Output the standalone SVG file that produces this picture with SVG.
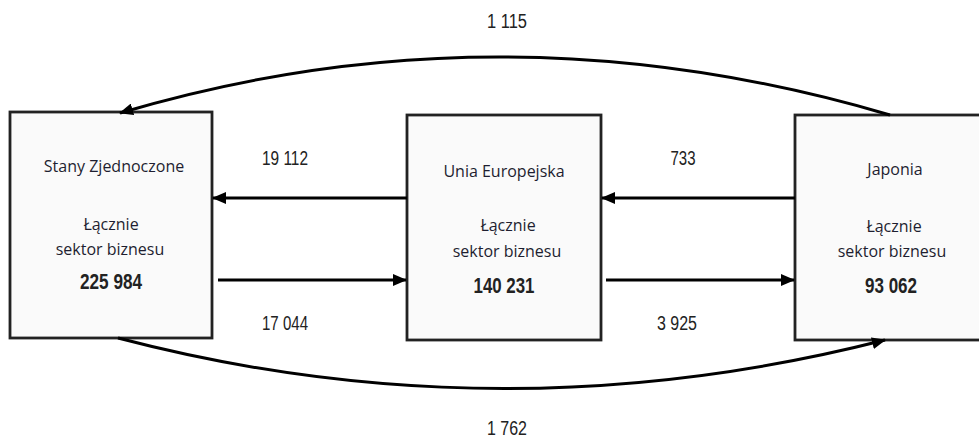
<svg xmlns="http://www.w3.org/2000/svg" width="979" height="440" viewBox="0 0 979 440">
<defs>
<marker id="ah" viewBox="0 0 14 12" refX="13" refY="6" markerWidth="14" markerHeight="12" markerUnits="userSpaceOnUse" orient="auto">
<path d="M0,0 L14,6 L0,12 Z" fill="#000"/>
</marker>
</defs>
<style>
.box{fill:#fafafa;stroke:#222;stroke-width:2.8}
.t{font-family:"Open Sans","Liberation Sans",sans-serif;font-size:16px;fill:#1e1e30;text-anchor:middle}
.n{font-family:"Liberation Sans",sans-serif;font-size:22px;font-weight:bold;fill:#222;text-anchor:middle}
.l{font-family:"Liberation Sans",sans-serif;font-size:20px;fill:#222;text-anchor:middle}
.c{fill:none;stroke:#000;stroke-width:3;marker-end:url(#ah)}
</style>
<rect width="979" height="440" fill="#fff"/>
<g id="us">
<rect class="box" x="10" y="112" width="202" height="226"/>
<text class="t" x="114" y="172">Stany Zjednoczone</text>
<text class="t" x="111" y="230">Łącznie</text>
<text class="t" x="110" y="255">sektor biznesu</text>
<text class="n" x="111" y="289" textLength="62" lengthAdjust="spacingAndGlyphs">225 984</text>
</g>
<g id="eu">
<rect class="box" x="407" y="115" width="194" height="225"/>
<text class="t" x="504" y="177">Unia Europejska</text>
<text class="t" x="508" y="231">Łącznie</text>
<text class="t" x="507" y="257">sektor biznesu</text>
<text class="n" x="504" y="293" textLength="61" lengthAdjust="spacingAndGlyphs">140 231</text>
</g>
<g id="jp">
<rect class="box" x="795" y="115" width="195" height="225"/>
<text class="t" x="895" y="175">Japonia</text>
<text class="t" x="894" y="232">Łącznie</text>
<text class="t" x="892" y="257">sektor biznesu</text>
<text class="n" x="891" y="293" textLength="52" lengthAdjust="spacingAndGlyphs">93 062</text>
</g>
<g id="connectors">
<path class="c" d="M890,115 Q500,0 120,113"/>
<path class="c" d="M118,338 Q500,438 885,340"/>
<path class="c" d="M407,198 L213,198"/>
<path class="c" d="M218,280 L406,280"/>
<path class="c" d="M795,198 L602,198"/>
<path class="c" d="M606,280 L794,280"/>
<text class="l" x="507" y="28" textLength="40" lengthAdjust="spacingAndGlyphs">1 115</text>
<text class="l" x="507" y="435" textLength="40" lengthAdjust="spacingAndGlyphs">1 762</text>
<text class="l" x="285" y="165" textLength="46" lengthAdjust="spacingAndGlyphs">19 112</text>
<text class="l" x="285" y="330" textLength="46" lengthAdjust="spacingAndGlyphs">17 044</text>
<text class="l" x="683" y="165" textLength="25" lengthAdjust="spacingAndGlyphs">733</text>
<text class="l" x="677" y="330" textLength="40" lengthAdjust="spacingAndGlyphs">3 925</text>
</g>
</svg>
